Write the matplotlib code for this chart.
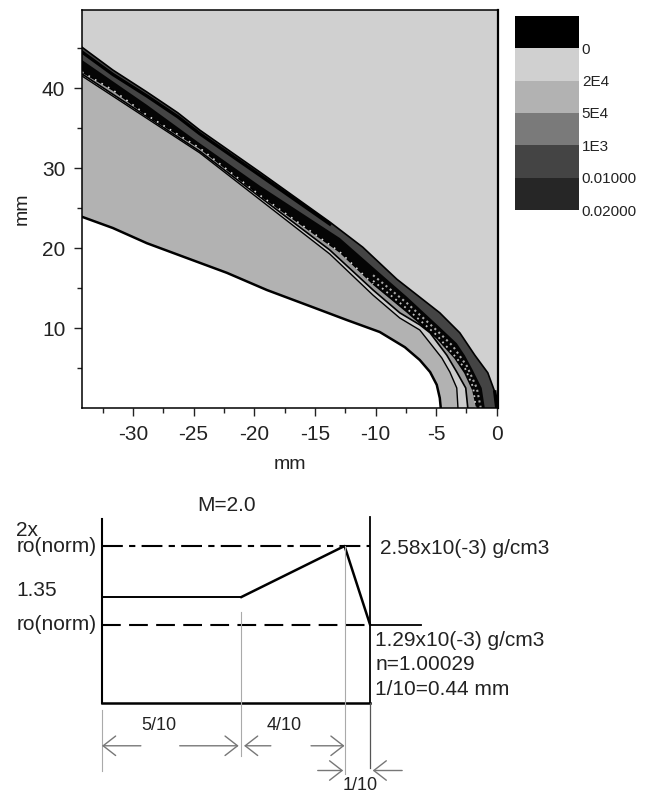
import numpy as np
import matplotlib
import matplotlib.pyplot as plt
from matplotlib.colors import ListedColormap

matplotlib.use('Agg')
plt.rcParams['font.family'] = ['Liberation Sans', 'DejaVu Sans']
plt.rcParams['axes.unicode_minus'] = False

# --- curvas del mapa (mm) ---
x_lim = (-34.2, 0.1)
y_lim = (0, 49.75)

shock_x = [-34.2, -31.66, -28.85, -26.3, -24.5, -19.54, -13.77, -11.05, -8.24, -4.7, -3.05, -1.81, -0.74, -0.16, 0]
shock_y = [45.1, 42.25, 39.5, 36.9, 34.75, 29.5, 23.25, 20.1, 16.1, 11.9, 9.4, 6.6, 4.4, 2, 0]

# borde negro grueso por debajo del choque, parte izquierda
edge_x = [-34.2, -31.66, -28.85, -26.3, -24.5, -19.54, -13.77]
edge_y = [44.5, 41.7, 39.0, 36.4, 34.3, 29.1, 23.0]

black_out_x = [-34.2, -28.85, -24.5, -19.5, -12.94, -10.2, -7.4, -4.7, -3.3, -2.64, -1.98, -1.24, -0.99]
black_out_y = [43.5, 37.9, 33.1, 27.75, 21.25, 17.6, 13.9, 10.1, 8.1, 6.6, 4.75, 2.5, 0]

black_in_x = [-34.2, -31.66, -28.85, -24.5, -19.54, -13.77, -12.94, -10.2, -7.4, -4.95, -3.46, -2.64, -1.98, -1.65]
black_in_y = [42, 39.75, 36.6, 32.5, 26.6, 20.4, 19.5, 15.5, 12, 8.75, 6.25, 4.4, 2.25, 0]

mid_line_x = [-34.2, -24.5, -13.77, -10.2, -8, -6.35, -5.5, -4.12, -3.3, -2.56, -2.39]
mid_line_y = [41.75, 32.1, 19.75, 14.75, 11.9, 10.4, 9.4, 6.6, 4.5, 2.5, 0]

inner_x = [-34.2, -24.5, -13.77, -10.2, -8, -6.35, -4.53, -3.87, -3.3, -3.2]
inner_y = [41.5, 31.9, 19.25, 14.1, 11.25, 9.75, 6.25, 4.5, 2.5, 0]

body_x = [-34.2, -31.66, -28.85, -25.56, -22.26, -18.96, -15.17, -12.37, -9.65, -7.58, -6.35, -5.5, -4.95, -4.7, -4.62]
body_y = [23.9, 22.5, 20.6, 18.75, 16.9, 14.75, 12.6, 11, 9.5, 7.6, 6, 4.5, 2.9, 1.25, 0]

speck_a_x = [-10.2, -7.4, -4.95, -3.63, -2.47, -1.65, -1.32]
speck_a_y = [16.6, 13.1, 9.7, 7.75, 5.25, 2.5, 0]
speck_b_x = [-10.2, -7.4, -4.95, -3.63, -2.6, -1.95, -1.73]
speck_b_y = [15.9, 12.4, 9.1, 6.8, 4.9, 2.6, 0]

# --- barra de colores ---
cb_colors = ['#000000', '#d0d0d0', '#b2b2b2', '#7a7a7a', '#444444', '#262626']
cb_labels = ['0', '2E4', '5E4', '1E3', '0.01000', '0.02000']

# --- esquema inferior (unidades: décimas / ro norm) ---
wall_left = 0
wall_right = 10
profile_x = [0, 5.2, 9.05, 10]
profile_y = [1.35, 1.35, 2, 1]
guide_x = [5.2, 9.05, 0]
guide_top = [1.16, 2, -0.09]
guide_bottom = [-0.67, -0.9, -0.86]


def poly(ax, xs, ys, color):
    # cerrar el polígono por la esquina inferior izquierda
    ax.fill(list(xs) + [x_lim[0]], list(ys) + [0], color=color, lw=0, zorder=2)


W, H = 651, 795
fig = plt.figure(figsize=(W / 100, H / 100), dpi=100)

# --- 1. Mapa ---
ax = fig.add_axes([82 / W, 1 - 408 / H, (498 - 82) / W, (408 - 10) / H])
ax.set_facecolor('#d0d0d0')
poly(ax, shock_x, shock_y, '#444444')
poly(ax, black_out_x, black_out_y, '#050505')
poly(ax, black_in_x, black_in_y, '#9a9a9a')
poly(ax, mid_line_x, mid_line_y, '#cccccc')
poly(ax, inner_x, inner_y, '#b2b2b2')
poly(ax, body_x, body_y, 'white')
ax.plot(shock_x, shock_y, color='black', lw=1.2, zorder=3)
ax.plot(edge_x, edge_y, color='black', lw=2.4, zorder=3)
ax.plot(mid_line_x, mid_line_y, color='black', lw=1.2, zorder=3)
ax.plot(inner_x, inner_y, color='black', lw=1.0, zorder=3)
ax.plot(black_in_x, black_in_y, color='black', lw=1.0, zorder=3)
ax.plot(body_x, body_y, color='black', lw=1.8, zorder=3)
ax.plot(speck_a_x, speck_a_y, color='#a8a8a8', lw=1.5, ls=(0, (1, 1.6)), zorder=4)
ax.plot(speck_b_x, speck_b_y, color='#c4c4c4', lw=1.3, ls=(0, (1, 2.2)), zorder=4)
ax.plot(black_in_x[:8], black_in_y[:8], color='#dddddd', lw=1.2, ls=(0, (1, 3.5)), zorder=4)
ax.plot(shock_x[-2:], shock_y[-2:], color='black', lw=2.5, zorder=4)

ax.set_xlim(x_lim)
ax.set_ylim(y_lim)
ax.set_xticks([-30, -25, -20, -15, -10, -5, 0])
ax.set_xticks([-32.5, -27.5, -22.5, -17.5, -12.5, -7.5, -2.5], minor=True)
ax.set_yticks([10, 20, 30, 40])
ax.set_yticks([5, 15, 25, 35, 45], minor=True)
ax.tick_params(axis='both', which='major', length=6, width=1, labelsize=15, colors='#222222', pad=6)
ax.tick_params(axis='both', which='minor', length=3.5, width=1, colors='#222222')
ax.set_xlabel('mm', fontsize=14, color='#222222', labelpad=9)
ax.set_ylabel('mm', fontsize=14, color='#222222', labelpad=8)
for s in ax.spines.values():
    s.set_linewidth(1.1)
    s.set_zorder(5)
ax.spines['right'].set_linewidth(1.6)

# --- 2. Barra de colores ---
cax = fig.add_axes([515 / W, 1 - 210 / H, (579 - 515) / W, (210 - 16) / H])
cax.imshow(np.arange(6).reshape(6, 1), cmap=ListedColormap(cb_colors), aspect='auto',
           extent=[0, 1, 6, 0], interpolation='nearest')
cax.set_xticks([])
cax.yaxis.tick_right()
cax.set_yticks(range(1, 7))
cax.set_yticklabels(cb_labels, fontsize=11, color='#222222')
cax.tick_params(axis='y', length=0, pad=2)
for s in cax.spines.values():
    s.set_visible(False)

# --- 3. Esquema ---
sc = fig.add_axes([0, 0, 1, 315 / H])
sc.set_xlim((0 - 102) / 26.8, (W - 102) / 26.8)
sc.set_ylim((703 - 795) / 78.5, (703 - 480) / 78.5)
sc.axis('off')
sc.patch.set_alpha(0)

sc.plot([wall_left, wall_left], [0, 2.34], color='black', lw=1.5)
sc.plot([wall_right, wall_right], [0, 2.37], color='black', lw=1.3)
sc.plot([wall_left, wall_right], [0, 0], color='black', lw=1.8)
sc.plot(profile_x[:2], profile_y[:2], color='black', lw=1.4)
sc.plot(profile_x[1:], profile_y[1:], color='black', lw=1.8)
sc.plot([wall_left, 10], [2, 2], color='black', lw=1.5, ls=(0, (10, 3, 3, 3)))
sc.plot([wall_left, 10], [1, 1], color='black', lw=1.5, ls=(0, (9, 4)))
sc.plot([10, 11.9], [1, 1], color='black', lw=1.3)
for gx, gt, gb in zip(guide_x, guide_top, guide_bottom):
    sc.plot([gx, gx], [gb, gt], color='#aaaaaa', lw=0.8)
sc.plot([10, 10], [0, -0.83], color='#555555', lw=0.9)

arrow_rows = [
    (1.45, 0, -0.545), (2.9, 5.1, -0.545),
    (6.3, 5.3, -0.545), (7.8, 9.05, -0.545),
    (8.05, 9.0, -0.86), (11.2, 10.1, -0.86),
]
for x0, x1, yy in arrow_rows:
    sc.annotate('', xy=(x1, yy), xytext=(x0, yy),
                arrowprops=dict(arrowstyle='->,head_length=0.9,head_width=0.7',
                                color='#777777', lw=1.0, shrinkA=0, shrinkB=0))

txt = dict(fontsize=15, color='#222222', va='center')
sc.text(-3.2, 2.2, '2x', **txt)
sc.text(-3.2, 2.0, 'ro(norm)', **txt)
sc.text(-3.2, 1.43, '1.35', **txt)
sc.text(-3.2, 1.0, 'ro(norm)', **txt)
sc.text(10.37, 1.97, '2.58x10(-3) g/cm3', **txt)
sc.text(10.2, 0.8, '1.29x10(-3) g/cm3', **txt)
sc.text(10.2, 0.49, 'n=1.00029', **txt)
sc.text(10.2, 0.17, '1/10=0.44 mm', **txt)
sc.text(4.66, 2.51, 'M=2.0', ha='center', **txt)
small = dict(fontsize=13, color='#222222', va='center', ha='center')
sc.text(2.13, -0.29, '5/10', **small)
sc.text(6.8, -0.29, '4/10', **small)
sc.text(9.63, -1.05, '1/10', **small)

fig.savefig('out.png', dpi=100)
